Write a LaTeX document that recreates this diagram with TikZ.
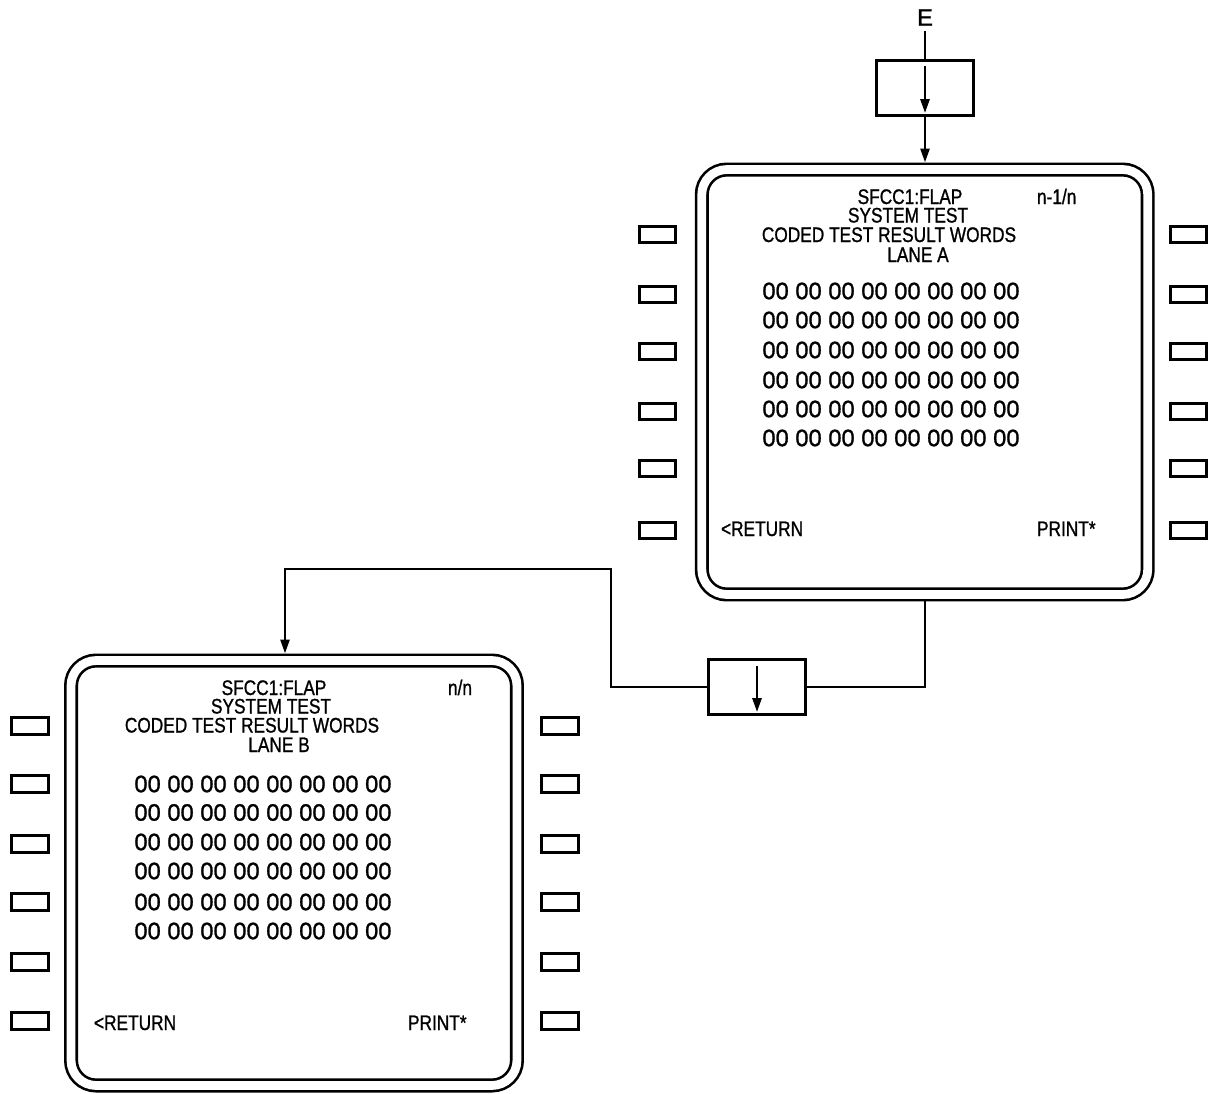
\documentclass[tikz,border=0pt]{standalone}
\usepackage{fontspec}
\usepackage{tikz}
\usetikzlibrary{arrows.meta,positioning}
\newfontfamily\scrfont[FakeStretch=0.82,FakeBold=1]{Liberation Sans}
\newfontfamily\digfont[FakeBold=1]{Liberation Sans}
\tikzset{
  wire/.style={draw=black, line width=1.5pt},
  arr/.style={-{Triangle[length=2.8mm,width=1.8mm]}},
  screen/.style={draw=black, line width=1.5pt, double=white, double distance=5pt, rounded corners=0.5cm, minimum width=8.92cm, minimum height=8.5cm, outer sep=4pt},
  btn/.style={draw=black, line width=1.5pt, minimum width=0.73cm, minimum height=0.33cm, inner sep=0pt},
  flowbox/.style={draw=black, line width=1.5pt, minimum width=1.94cm, minimum height=1.11cm, inner sep=0pt},
  lab/.style={font=\scrfont\fontsize{12}{14}\selectfont, inner sep=0pt, outer sep=0pt, anchor=base},
  labw/.style={lab, anchor=base west},
  dat/.style={font=\digfont\fontsize{13.5}{15}\selectfont, inner sep=0pt},
}
\begin{document}
\begin{tikzpicture}[x=0.02cm, y=-0.02cm]
\path[fill=white, use as bounding box] (0,0) rectangle (1227,1093);

\node[dat, inner sep=3pt] (e) at (925,17.5) {E};
\node[flowbox] (boxe) at (925,88) {};
\node[screen] (scra) at (924.75,382) {};
\node[flowbox] (boxm) at (757,687) {};
\node[screen] (scrb) at (294,873) {};

\foreach \yy [count=\i] in {234.5,294.5,351.5,411.5,468.5,530.5} {
  \node[btn] (a-l\i) at (657.5,\yy) {};
  \node[btn] (a-r\i) at (1188.5,\yy) {};
}
\foreach \yy [count=\i] in {726,784,844,902,962,1021} {
  \node[btn] (b-l\i) at (30,\yy) {};
  \node[btn] (b-r\i) at (560,\yy) {};
}

\node[lab] (a-t1) at (910,204) {SFCC1:FLAP};
\node[lab] (a-t2) at (908,222.5) {SYSTEM TEST};
\node[lab] (a-t3) at (889,242) {CODED TEST RESULT WORDS};
\node[lab] (a-t4) at (918,262) {LANE A};
\node[labw] (a-pg) at (1037,204) {n-1/n};
\foreach \yy [count=\i] in {291,320,350,380,409,438}
  \node[dat] (a-d\i) at (891,\yy) {00 00 00 00 00 00 00 00};
\node[labw] (a-ret) at (721,536) {<RETURN};
\node[labw] (a-prt) at (1037,536) {PRINT*};

\node[lab] (b-t1) at (274,695) {SFCC1:FLAP};
\node[lab] (b-t2) at (271,713.5) {SYSTEM TEST};
\node[lab] (b-t3) at (252,732.5) {CODED TEST RESULT WORDS};
\node[lab] (b-t4) at (279,752) {LANE B};
\node[labw] (b-pg) at (448,695) {n/n};
\foreach \yy [count=\i] in {784,812.5,842,871,902,931}
  \node[dat] (b-d\i) at (263,\yy) {00 00 00 00 00 00 00 00};
\node[labw] (b-ret) at (94,1030) {<RETURN};
\node[labw] (b-prt) at (408,1030) {PRINT*};

\coordinate (bend) at (611,569);
\coordinate (inb) at (285,0);

\draw[wire] (e.south) -- (boxe.north);
\draw[wire, arr] ([yshift=-0.14cm]boxe.north) -- ([yshift=0.08cm]boxe.south);
\draw[wire, arr] (boxe.south) -- (boxe.south |- scra.north);
\draw[wire] (scra.south -| boxe.south) |- (boxm.east);
\draw[wire, arr] ([yshift=-0.16cm]boxm.north) -- ([yshift=0.08cm]boxm.south);
\draw[wire, arr] (boxm.west) -| (bend) -| (inb |- scrb.north);
\end{tikzpicture}
\end{document}
